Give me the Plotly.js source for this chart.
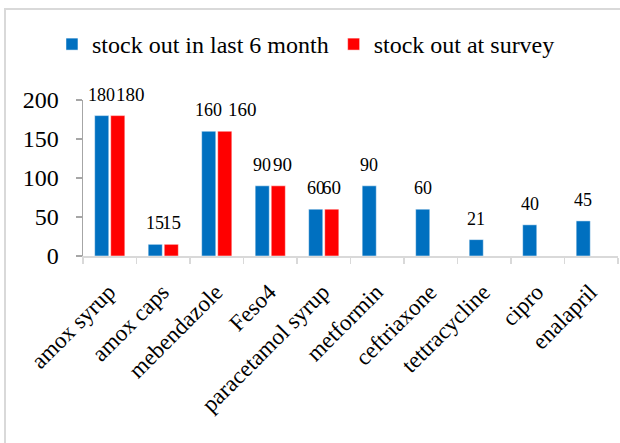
<!DOCTYPE html>
<html>
<head>
<meta charset="utf-8">
<script src="https://cdn.plot.ly/plotly-3.0.1.min.js"></script>
<style>
  html, body { margin:0; padding:0; background:#fff; }
  #wrap { position:relative; width:620px; height:443px; overflow:hidden; }
  #frame { position:absolute; left:4px; top:8px; width:640px; height:460px; border:2px solid #d9d9d9; box-sizing:border-box; }
  #chart { position:absolute; left:0; top:0; width:620px; height:443px; }
</style>
</head>
<body>
<div id="wrap"><div id="frame"></div><div id="chart"></div></div>
<script>
// ---- data ----
const categories = ["amox syrup","amox caps","mebendazole","Feso4","paracetamol syrup","metformin","ceftriaxone","tettracycline","cipro","enalapril"];
const last6Month = [180, 15, 160, 90, 60, 90, 60, 21, 40, 45];
const atSurvey   = [180, 15, 160, 90, 60, null, null, null, null, null];
const seriesNames = ["stock out in last 6 month", "stock out at survey"];
const yTicks = [0, 50, 100, 150, 200];

// ---- style ----
const BLUE = "#0070C0", RED = "#FF0000";
const FONT = "Liberation Serif";
const redNudge = [13, 0, 18, 4, 0, 0, 0, 0, 0, 0];

const traces = [
  { type:"bar", name:seriesNames[0], x:categories, y:last6Month,
    marker:{color:BLUE, line:{color:"rgba(255,255,255,0.5)", width:1}}, hoverinfo:"none" },
  { type:"bar", name:seriesNames[1], x:categories, y:atSurvey,
    marker:{color:RED, line:{color:"rgba(255,255,255,0.5)", width:1}}, hoverinfo:"none" }
];

const annotations = [];
categories.forEach((c, i) => {
  if (last6Month[i] != null) annotations.push({
    x:c, y:last6Month[i], xref:"x", yref:"y", text:String(last6Month[i]),
    showarrow:false, xshift:-8, yshift:9, yanchor:"bottom",
    font:{family:FONT, size:18, color:"#000"}
  });
  if (atSurvey[i] != null) annotations.push({
    x:c, y:atSurvey[i], xref:"x", yref:"y", text:String(atSurvey[i]),
    showarrow:false, xshift:8 + redNudge[i], yshift:9, yanchor:"bottom",
    font:{family:FONT, size:19, color:"#000"}
  });
});

const layout = {
  width:620, height:443,
  margin:{l:83, r:2, t:100, b:187},
  paper_bgcolor:"rgba(0,0,0,0)", plot_bgcolor:"rgba(0,0,0,0)",
  barmode:"group", bargap:0.4, bargroupgap:0.12,
  font:{family:FONT, color:"#000"},
  showlegend:true,
  legend:{orientation:"h", x:-0.058, xanchor:"left", y:1.5, yanchor:"top",
    font:{family:FONT, size:24, color:"#000"}, traceorder:"normal"},
  xaxis:{type:"category", showline:true, linecolor:"#d9d9d9", linewidth:1.5,
    ticks:"outside", tickson:"boundaries", ticklen:6, tickcolor:"#d9d9d9", tickwidth:1.5,
    tickangle:-45, tickfont:{family:FONT, size:23, color:"#000"},
    ticklabelstandoff:12, ticklabelshift:-1,
    showgrid:false, zeroline:false, fixedrange:true},
  yaxis:{range:[0,200], tickvals:yTicks, ticktext:yTicks.map(String),
    showline:true, linecolor:"#a6a6a6", linewidth:1.5,
    ticks:"outside", ticklen:6, tickcolor:"#a6a6a6", tickwidth:1.5,
    tickfont:{family:FONT, size:24, color:"#000"}, ticklabelstandoff:12,
    showgrid:false, zeroline:false, fixedrange:true},
  annotations:annotations
};

Plotly.newPlot("chart", traces, layout, {displayModeBar:false, staticPlot:true});
</script>
</body>
</html>
